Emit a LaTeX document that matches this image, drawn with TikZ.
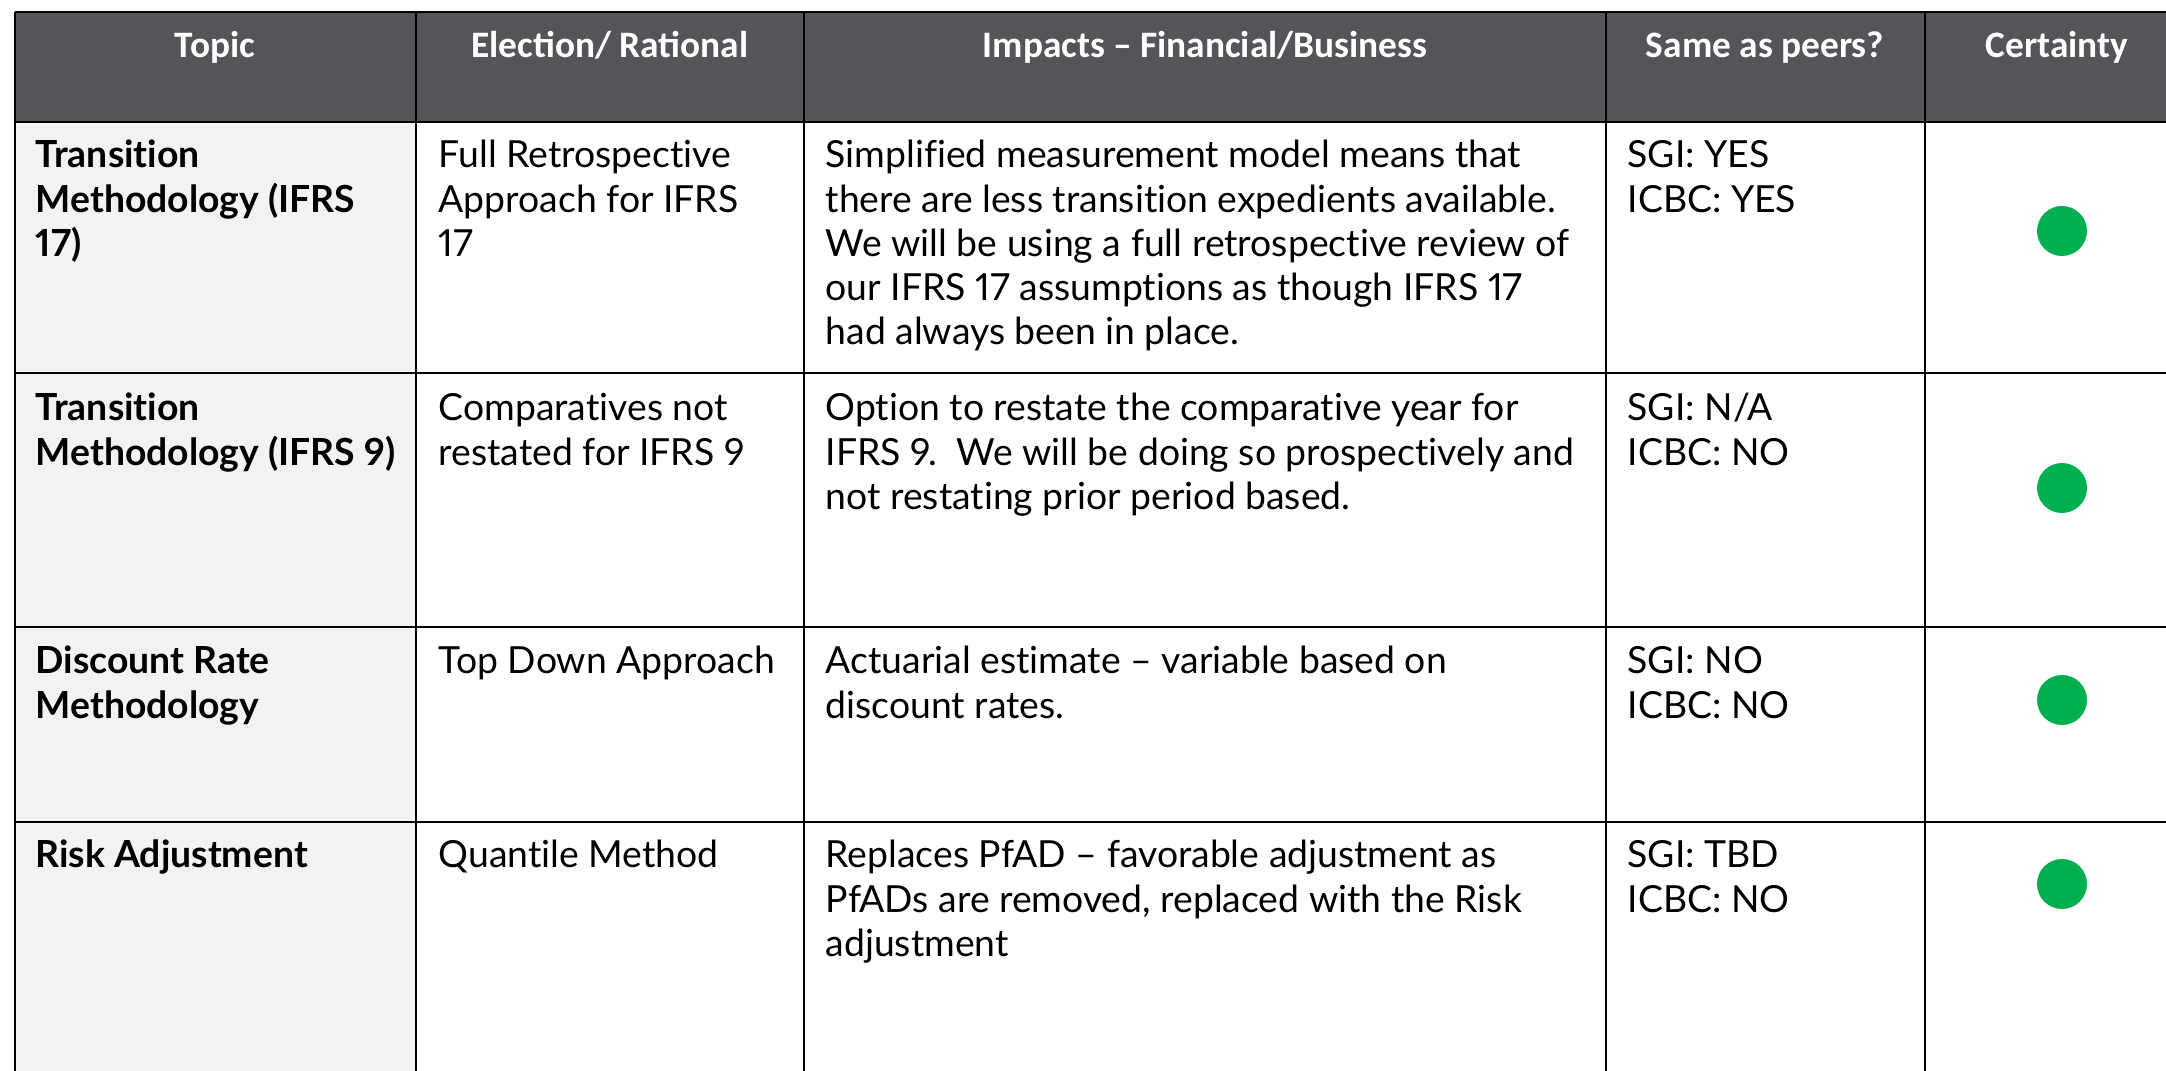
\documentclass[tikz,border=0pt]{standalone}
\usepackage{fontspec}
\setmainfont{Lato}[Ligatures=NoCommon, Numbers=Proportional]
\newfontfamily\headfont{Carlito}
\usepackage{xcolor}
\usepackage{tikz}
\definecolor{headgray}{RGB}{84,85,89}
\definecolor{topicgray}{RGB}{242,242,242}
\definecolor{okgreen}{RGB}{0,176,80}
\tikzset{
    head/.style={anchor=base, text=white, inner sep=0pt, font=\headfont\fontsize{11.2}{13}\selectfont\bfseries},
    cell/.style={anchor=base west, align=flush left, text width=240pt, inner sep=0pt, font=\fontsize{11.2}{13.26}\selectfont},
    topic/.style={cell, font=\fontsize{11.2}{13.26}\selectfont\bfseries},
    dot/.style={circle, fill=okgreen, inner sep=0pt, minimum size=15pt},
    rule/.style={line width=0.8pt, black}
}

\begin{document}
\begin{tikzpicture}[x=0.3pt, y=-0.3pt]
		\useasboundingbox (0,0) rectangle (2166,1071);
		\fill[white] (0,0) rectangle (2166,1071);

		% fills
		\fill[headgray] (15,12) rectangle (2166,122);
		\fill[topicgray] (15,122) rectangle (416,1071);

		% rules
		\draw[rule] (15,12) -- (2166,12);
		\draw[rule] (15,122) -- (2166,122);
		\draw[rule] (15,373) -- (2166,373);
		\draw[rule] (15,627) -- (2166,627);
		\draw[rule] (15,822) -- (2166,822);
		\draw[rule] (15,12) -- (15,1071);
		\draw[rule] (416,12) -- (416,1071);
		\draw[rule] (804,12) -- (804,1071);
		\draw[rule] (1606,12) -- (1606,1071);
		\draw[rule] (1925,12) -- (1925,1071);

		% header
		\node (hTopic) [head] at (215,58) {Topic};
		\node (hElect) [head] at (610,58) {Election/ Rational};
		\node (hImpact) [head] at (1205,58) {Impacts – Financial/Business};
		\node (hPeers) [head] at (1765,58) {Same as peers?};
		\node (hCert) [head] at (2057,58) {Certainty};

		% IFRS 17 transition
		\node (topicA) [topic] at (35,168) {Transition\\Methodology (IFRS\\17)};
		\node (electA) [cell] at (438,168) {Full Retrospective\\Approach for IFRS\\17};
		\node (impactA) [cell] at (825,168) {Simplified measurement model means that\\there are less transition expedients available.\\We will be using a full retrospective review of\\our IFRS 17 assumptions as though IFRS 17\\had always been in place.};
		\node (peersA) [cell] at (1627,168) {SGI: YES\\ICBC: YES};
		\node (certA) [dot] at (2062,231) {};

		% IFRS 9 transition
		\node (topicB) [topic] at (35,421) {Transition\\Methodology (IFRS 9)};
		\node (electB) [cell] at (438,421) {Comparatives not\\restated for IFRS 9};
		\node (impactB) [cell] at (825,421) {Option to restate the comparative year for\\IFRS 9.\ \ We will be doing so prospectively and\\not restating prior period based.};
		\node (peersB) [cell] at (1627,421) {SGI: N/A\\ICBC: NO};
		\node (certB) [dot] at (2062,488) {};

		% discount rate
		\node (topicC) [topic] at (35,674) {Discount Rate\\Methodology};
		\node (electC) [cell] at (438,674) {Top Down Approach};
		\node (impactC) [cell] at (825,674) {Actuarial estimate – variable based on\\discount rates.};
		\node (peersC) [cell] at (1627,674) {SGI: NO\\ICBC: NO};
		\node (certC) [dot] at (2062,700) {};

		% risk adjustment
		\node (topicD) [topic] at (35,868) {Risk Adjustment};
		\node (electD) [cell] at (438,868) {Quantile Method};
		\node (impactD) [cell] at (825,868) {Replaces PfAD – favorable adjustment as\\PfADs are removed, replaced with the Risk\\adjustment};
		\node (peersD) [cell] at (1627,868) {SGI: TBD\\ICBC: NO};
		\node (certD) [dot] at (2062,884) {};
\end{tikzpicture}
\end{document}
